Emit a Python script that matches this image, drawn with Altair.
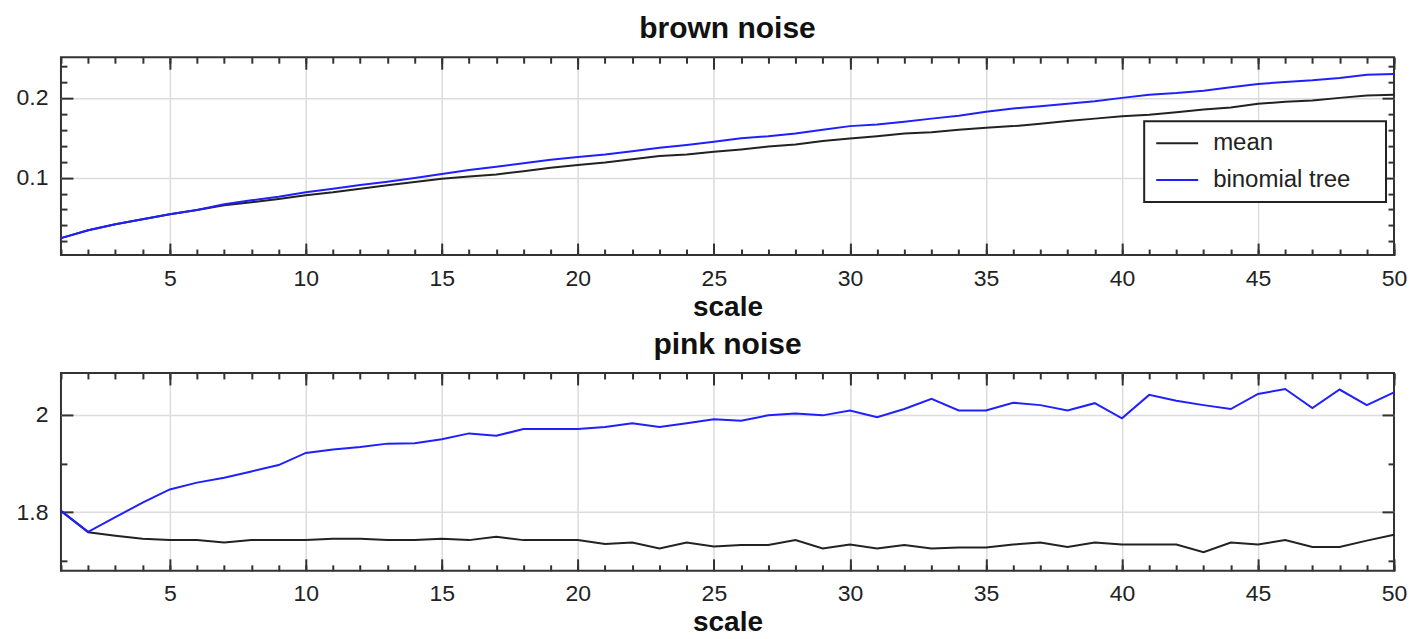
import altair as alt
import pandas as pd

FONT = "Liberation Sans"

scale_k = list(range(1, 51))

brown_mean = [0.0242, 0.034, 0.0417, 0.048, 0.0542, 0.0596, 0.0655, 0.0692, 0.0733, 0.078,
              0.0817, 0.0862, 0.0904, 0.0946, 0.0985, 0.1015, 0.104, 0.108, 0.1125, 0.116,
              0.119, 0.123, 0.127, 0.129, 0.1325, 0.1354, 0.139, 0.1417, 0.146, 0.149,
              0.152, 0.1554, 0.157, 0.16, 0.1625, 0.1646, 0.1675, 0.171, 0.174, 0.177,
              0.179, 0.182, 0.1854, 0.188, 0.1925, 0.195, 0.1967, 0.2, 0.203, 0.204]
brown_tree = [0.0242, 0.034, 0.0417, 0.048, 0.0542, 0.0596, 0.0667, 0.0717, 0.076, 0.0817,
              0.0862, 0.0908, 0.095, 0.0995, 0.1045, 0.1095, 0.1137, 0.118, 0.1225, 0.126,
              0.129, 0.133, 0.1375, 0.141, 0.145, 0.1495, 0.152, 0.1554, 0.16, 0.1646,
              0.1667, 0.17, 0.174, 0.1775, 0.1825, 0.1867, 0.1896, 0.1925, 0.1958, 0.2,
              0.204, 0.206, 0.209, 0.2133, 0.2175, 0.22, 0.222, 0.225, 0.229, 0.23]
pink_mean = [1.803, 1.759, 1.752, 1.746, 1.743, 1.743, 1.738, 1.743, 1.743, 1.743,
             1.746, 1.746, 1.743, 1.743, 1.746, 1.743, 1.750, 1.743, 1.743, 1.743,
             1.735, 1.738, 1.726, 1.738, 1.730, 1.733, 1.733, 1.743, 1.726, 1.734,
             1.726, 1.733, 1.726, 1.728, 1.728, 1.734, 1.738, 1.729, 1.738, 1.734,
             1.734, 1.734, 1.718, 1.738, 1.734, 1.743, 1.729, 1.729, 1.742, 1.754]
pink_tree = [1.803, 1.760, 1.790, 1.820, 1.847, 1.861, 1.871, 1.884, 1.897, 1.922,
             1.929, 1.934, 1.941, 1.942, 1.950, 1.962, 1.957, 1.971, 1.971, 1.971,
             1.975, 1.983, 1.975, 1.983, 1.991, 1.988, 1.999, 2.003, 1.999, 2.009,
             1.995, 2.012, 2.033, 2.009, 2.009, 2.025, 2.020, 2.009, 2.024, 1.993,
             2.041, 2.029, 2.020, 2.012, 2.043, 2.053, 2.014, 2.052, 2.020, 2.046]

series_names = ["mean", "binomial tree"]
series_colors = ["#222222", "#2020ff"]

x_major = [5, 10, 15, 20, 25, 30, 35, 40, 45, 50]
x_minor = list(range(1, 51))
brown_major = [0.1, 0.2]
brown_minor = [0.02, 0.04, 0.06, 0.08, 0.12, 0.14, 0.16, 0.18, 0.22, 0.24]
pink_major = [1.8, 2.0]
pink_minor = [1.7, 1.9]

W, H = 1334, 198
MAJ, MIN = 12, 6
TICK_COLOR = "#333333"


def ghost_axis(orient, values, size):
    return alt.Axis(orient=orient, values=values, offset=-size, tickSize=size,
                    tickWidth=2, tickColor=TICK_COLOR, labels=False, grid=False,
                    domain=False, title=None, minExtent=0, maxExtent=0)


def panel(title, mean, tree, ydom, ymajor, yminor, title_y):
    df = pd.DataFrame({
        "scale": scale_k + scale_k,
        "value": mean + tree,
        "series": [series_names[0]] * len(mean) + [series_names[1]] * len(tree),
    })
    xs = alt.Scale(domain=[1, 50], nice=False, zero=False)
    ys = alt.Scale(domain=ydom, nice=False, zero=False)
    base = alt.Chart(df)

    def ghost(xorient, xvals, xsize, yorient, yvals, ysize):
        return base.mark_line(strokeOpacity=0).encode(
            x=alt.X("scale:Q", scale=xs, axis=ghost_axis(xorient, xvals, xsize)),
            y=alt.Y("value:Q", scale=ys, axis=ghost_axis(yorient, yvals, ysize)),
            detail="series:N",
        )

    g1 = ghost("bottom", x_minor, MIN, "left", yminor, MIN)
    g2 = ghost("top", x_major, MAJ, "right", ymajor, MAJ)
    g3 = ghost("top", x_minor, MIN, "right", yminor, MIN)

    grid_color = {"condition": {"test": "datum.value >= 50", "value": "transparent"},
                  "value": "#dcdcdc"}
    main = base.mark_line(strokeWidth=2).encode(
        x=alt.X("scale:Q", scale=xs, axis=alt.Axis(
            orient="bottom", values=x_major, offset=-MAJ, tickSize=MAJ, tickWidth=2,
            tickColor=TICK_COLOR, domain=False, grid=True, gridColor=grid_color,
            gridWidth=1.5, labelFont=FONT, labelFontSize=23, labelColor="#222222",
            labelBaseline="alphabetic", labelPadding=30, labelFlush=False,
            labelOverlap=False, title="scale", titleFont=FONT, titleFontSize=28,
            titleFontWeight="bold", titleColor="#111111", titleBaseline="alphabetic",
            titleY=title_y)),
        y=alt.Y("value:Q", scale=ys, axis=alt.Axis(
            orient="left", values=ymajor, format="~g", offset=-MAJ, tickSize=MAJ,
            tickWidth=2, tickColor=TICK_COLOR, domain=False, grid=True,
            gridColor="#dcdcdc", gridWidth=1.5, labelFont=FONT, labelFontSize=23,
            labelColor="#222222", labelPadding=13, title=None)),
        color=alt.Color("series:N", scale=alt.Scale(domain=series_names, range=series_colors),
                        legend=alt.Legend(
                            title=".", titleOrient="right", titleFontSize=4,
                            titleColor="white", titlePadding=24,
                            orient="none", legendX=1084, legendY=64,
                            fillColor="white", strokeColor="#222222", padding=10,
                            rowPadding=13, clipHeight=24, symbolType="M-1.75,0H1.75",
                            symbolSize=576, symbolStrokeWidth=2, symbolOffset=10,
                            labelOffset=23, labelFont=FONT, labelFontSize=24,
                            labelColor="#222222")),
    )

    return alt.layer(g1, g2, g3, main).resolve_axis(x="independent", y="independent").properties(
        width=W, height=H,
        title=alt.TitleParams(text=title, font=FONT, fontSize=30, fontWeight="bold",
                              color="#111111", anchor="middle", frame="group",
                              baseline="alphabetic", offset=-12),
    )


top = panel("brown noise", brown_mean, brown_tree, [0.003, 0.251], brown_major, brown_minor, 72)
bottom = panel("pink noise", pink_mean, pink_tree, [1.68, 2.086], pink_major, pink_minor, 72)

chart = alt.vconcat(top, bottom, spacing=7).properties(
    padding={"left": 7, "top": 5, "right": 0, "bottom": 0}
).configure_view(stroke="#333333", strokeWidth=2).configure_legend(strokeWidth=2)

chart.save("out.html", embed_options={"renderer": "svg", "actions": False})
